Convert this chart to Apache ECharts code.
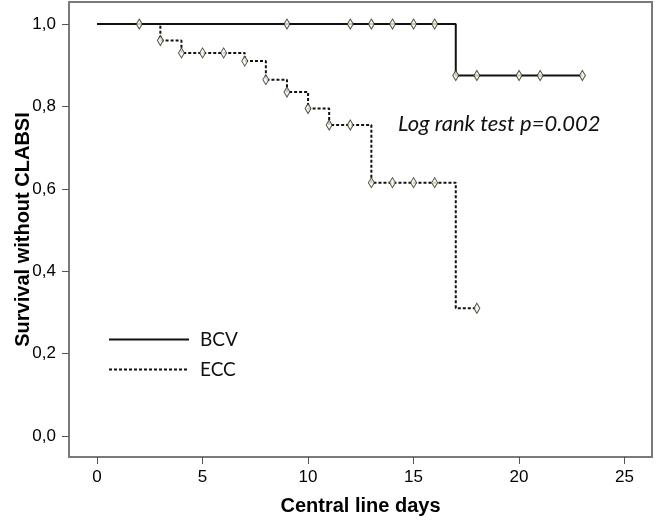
<!DOCTYPE html>
<html><head><meta charset="utf-8">
<script src="https://cdn.jsdelivr.net/npm/echarts@6/dist/echarts.min.js"></script>
<style>html,body{margin:0;padding:0;background:#fff}#c{width:657px;height:522px}</style>
</head><body><div id="c"></div>
<script>
// Kaplan-Meier step curves (time, survival)
const bcvTimes = [0, 17, 23];
const bcvSurv  = [1.0, 0.875, 0.875];
const eccTimes = [0, 3, 4, 7, 8, 9, 10, 11, 13, 17, 18];
const eccSurv  = [1.0, 0.96, 0.93, 0.91, 0.865, 0.835, 0.795, 0.755, 0.615, 0.31, 0.31];
// Censored observations
const bcvCensTimes = [2, 9, 12, 13, 14, 15, 16, 17, 18, 20, 21, 23];
const bcvCensSurv  = [1, 1, 1, 1, 1, 1, 1, 0.875, 0.875, 0.875, 0.875, 0.875];
const eccCensTimes = [3, 4, 5, 6, 7, 8, 9, 10, 11, 12, 13, 14, 15, 16, 18];
const eccCensSurv  = [0.96, 0.93, 0.93, 0.93, 0.91, 0.865, 0.835, 0.795, 0.755, 0.755, 0.615, 0.615, 0.615, 0.615, 0.31];
const xTicks = [0, 5, 10, 15, 20, 25];
const yTicks = [0, 0.2, 0.4, 0.6, 0.8, 1.0];
const seriesNames = ['BCV', 'ECC'];
const annotation = 'Log rank test p=0.002';

const zip = (a, b) => a.map((v, i) => [v, b[i]]);
const chart = echarts.init(document.getElementById('c'));
const markerStyle = { color: '#f7f6e4', borderColor: '#222', borderWidth: 1 };
chart.setOption({
  animation: false,
  grid: { left: 69, right: 5, top: 2, bottom: 65, show: true, containLabel: false, outerBoundsMode: 'none',
          borderColor: '#7a7a7a', borderWidth: 2, backgroundColor: 'transparent' },
  xAxis: {
    type: 'value', min: -1.33, max: 26.3,
    axisLine: { show: false, onZero: false },
    axisTick: { show: true, length: 7, customValues: xTicks, lineStyle: { color: '#555', width: 1 } },
    axisLabel: { customValues: xTicks, fontFamily: 'Liberation Sans', fontSize: 17, color: '#000', margin: 12 },
    splitLine: { show: false },
    name: 'Central line days', nameLocation: 'middle', nameGap: 39, nameMoveOverlap: false,
    nameTextStyle: { fontFamily: 'Liberation Sans', fontWeight: 'bold', fontSize: 20, color: '#000' }
  },
  yAxis: {
    type: 'value', min: -0.051, max: 1.0535,
    axisLine: { show: false, onZero: false },
    axisTick: { show: true, length: 7, customValues: yTicks, lineStyle: { color: '#555', width: 1 } },
    axisLabel: { customValues: yTicks, formatter: v => v.toFixed(1).replace('.', ','), fontFamily: 'Liberation Sans', fontSize: 17, color: '#000', margin: 13 },
    splitLine: { show: false },
    name: 'Survival without CLABSI', nameLocation: 'middle', nameGap: 36, nameMoveOverlap: false,
    nameTextStyle: { fontFamily: 'Liberation Sans', fontWeight: 'bold', fontSize: 20, color: '#000' }
  },
  legend: {
    orient: 'vertical', left: 103, top: 325, itemWidth: 80, itemHeight: 10, itemGap: 11,
    data: seriesNames,
    itemStyle: { opacity: 0 },
    textStyle: { fontFamily: 'Lato', fontSize: 19, color: '#111', padding: [0, 0, 0, 6] }
  },
  graphic: [{
    type: 'text', left: 398, top: 113,
    style: { text: annotation, font: 'italic 22px Lato', fill: '#111' }
  }],
  series: [
    { name: 'BCV', type: 'line', step: 'end', data: zip(bcvTimes, bcvSurv), showSymbol: false,
      symbol: 'none', lineStyle: { color: '#111', width: 2 }, itemStyle: { color: '#111' }, z: 3 },
    { name: 'ECC', type: 'line', step: 'end', data: zip(eccTimes, eccSurv), showSymbol: false,
      symbol: 'none', lineStyle: { color: '#111', width: 2, type: [3, 2] }, itemStyle: { color: '#111' }, z: 2 },
    { name: 'BCV censored', type: 'scatter', data: zip(bcvCensTimes, bcvCensSurv), symbol: 'diamond',
      symbolSize: [6, 10], itemStyle: markerStyle, z: 4 },
    { name: 'ECC censored', type: 'scatter', data: zip(eccCensTimes, eccCensSurv), symbol: 'diamond',
      symbolSize: [6, 10], itemStyle: markerStyle, z: 4 }
  ]
});
</script></body></html>
